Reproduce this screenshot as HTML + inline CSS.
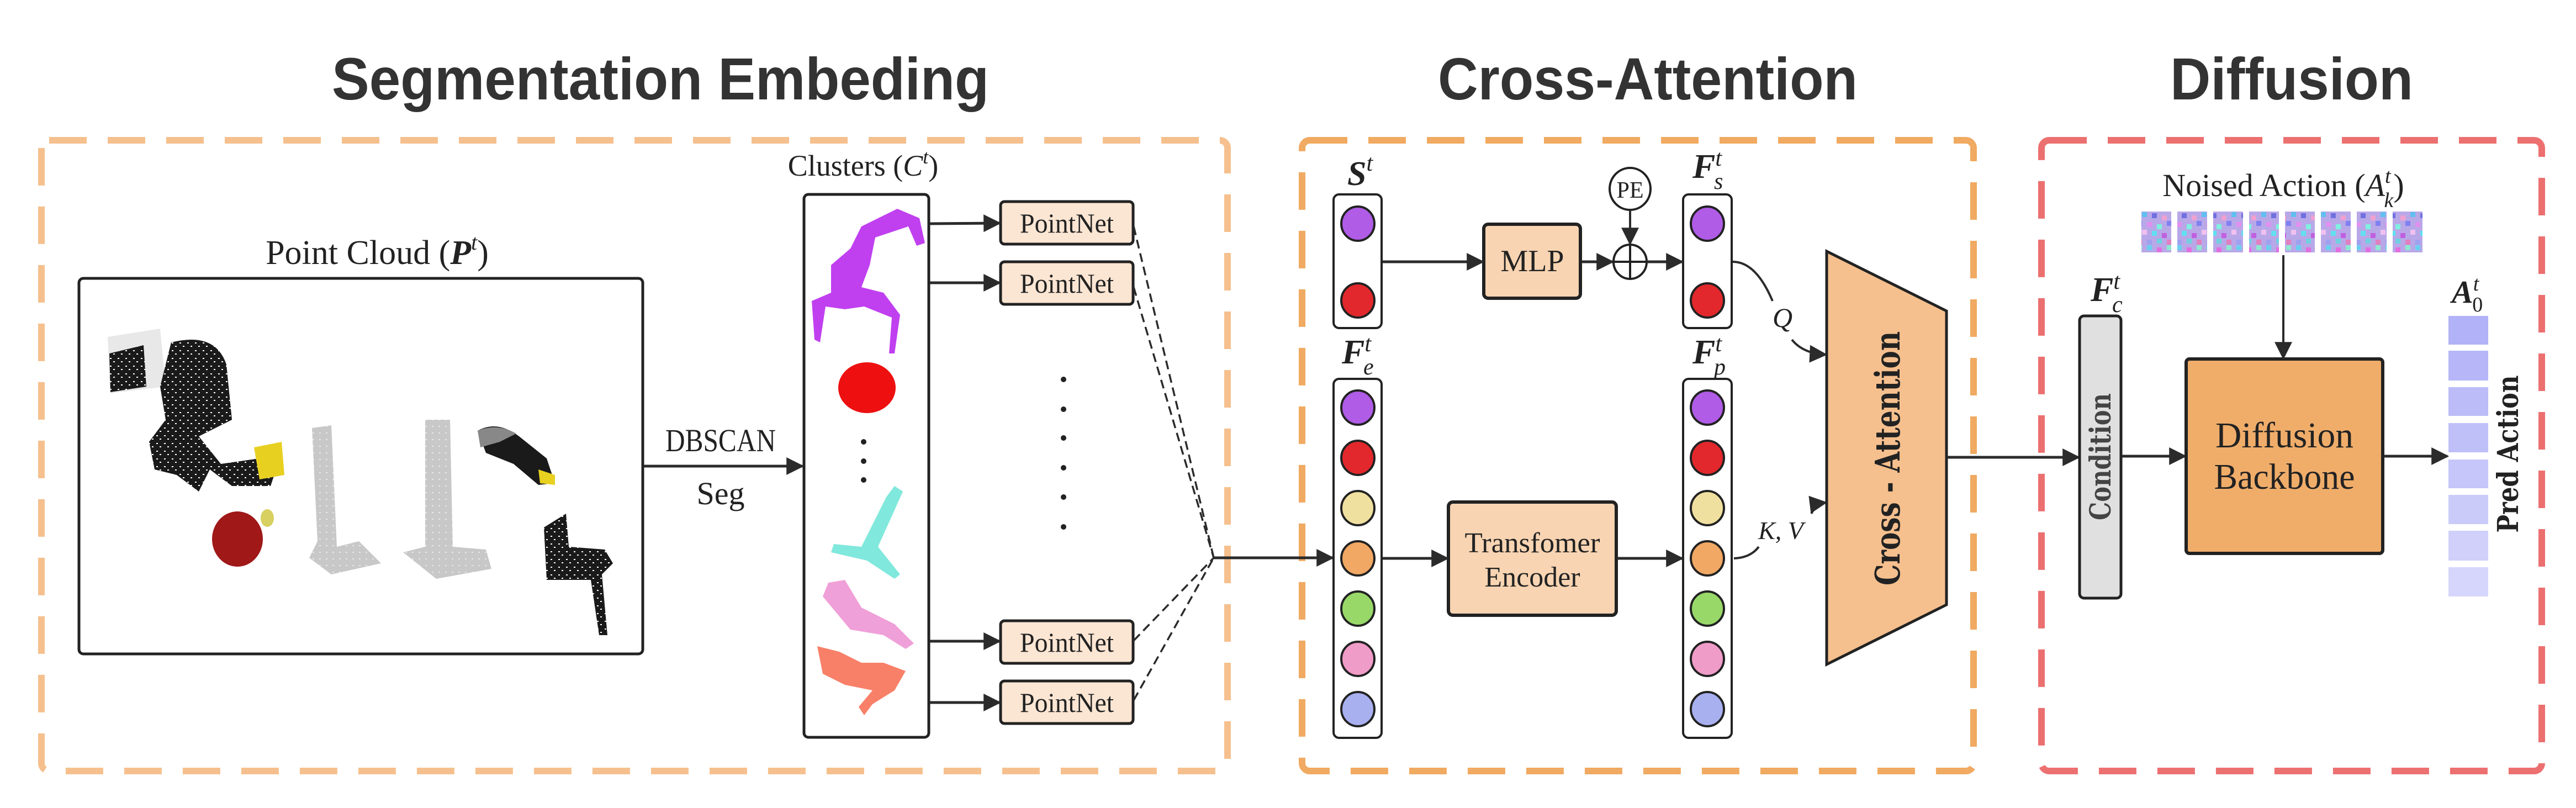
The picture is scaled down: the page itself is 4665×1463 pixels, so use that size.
<!DOCTYPE html>
<html><head><meta charset="utf-8"><style>html,body{margin:0;padding:0;background:#fff}svg{display:block}</style></head><body>
<svg width="4665" height="1463" viewBox="0 0 4665 1463" xmlns="http://www.w3.org/2000/svg">
<defs>
<marker id="ah" markerWidth="10" markerHeight="10" refX="9" refY="5" orient="auto" markerUnits="userSpaceOnUse" viewBox="0 0 10 10" >
<path d="M0,0 L10,5 L0,10 z" fill="#2b2b2b"/></marker>
<marker id="a2" viewBox="0 0 10 10" refX="9" refY="5" markerWidth="36" markerHeight="32" orient="auto" markerUnits="userSpaceOnUse"><path d="M0,0 L10,5 L0,10 z" fill="#2b2b2b"/></marker>
<pattern id="noise" width="54" height="74" patternUnits="userSpaceOnUse">
<rect width="54" height="74" fill="#b8a8e8"/>
<rect x="0" y="0" width="9" height="9" fill="#6ad0f0"/><rect x="18" y="4" width="9" height="9" fill="#e070e0"/><rect x="36" y="0" width="9" height="9" fill="#90e8d0"/>
<rect x="9" y="16" width="9" height="9" fill="#7070e0"/><rect x="27" y="20" width="9" height="9" fill="#f0a0d0"/><rect x="45" y="14" width="9" height="9" fill="#60c0f0"/>
<rect x="0" y="32" width="9" height="9" fill="#e090f0"/><rect x="18" y="36" width="9" height="9" fill="#80f0e0"/><rect x="36" y="30" width="9" height="9" fill="#8080f0"/>
<rect x="9" y="48" width="9" height="9" fill="#60e0f0"/><rect x="27" y="52" width="9" height="9" fill="#c060e0"/><rect x="45" y="46" width="9" height="9" fill="#f0c0f0"/>
<rect x="0" y="64" width="9" height="9" fill="#a0a0f0"/><rect x="18" y="62" width="9" height="9" fill="#70d0e0"/><rect x="36" y="64" width="9" height="9" fill="#e080c0"/>
</pattern>
<pattern id="dots" width="14" height="14" patternUnits="userSpaceOnUse"><rect width="14" height="14" fill="#1a1a1a"/><rect x="3" y="4" width="3" height="2" fill="#fff"/><rect x="9" y="10" width="3" height="2" fill="#fff"/></pattern>
<pattern id="gdots" width="12" height="12" patternUnits="userSpaceOnUse"><rect width="12" height="12" fill="#c8c8c8"/><rect x="2" y="3" width="3" height="2" fill="#e8e8e8"/></pattern>
</defs>

<!-- Titles -->
<g font-family="Liberation Sans, sans-serif" font-weight="bold" fill="#333">
<text x="1196" y="180" font-size="108" text-anchor="middle" textLength="1190" lengthAdjust="spacingAndGlyphs">Segmentation Embeding</text>
<text x="2984" y="180" font-size="108" text-anchor="middle" textLength="760" lengthAdjust="spacingAndGlyphs">Cross-Attention</text>
<text x="4150" y="180" font-size="108" text-anchor="middle" textLength="440" lengthAdjust="spacingAndGlyphs">Diffusion</text>
</g>

<!-- Dashed boxes -->
<rect x="75" y="254" width="2148" height="1142" rx="14" fill="none" stroke="#f5c08e" stroke-width="12" stroke-dasharray="68,38"/>
<rect x="2358" y="254" width="1216" height="1142" rx="14" fill="none" stroke="#f0aa62" stroke-width="12" stroke-dasharray="68,38"/>
<rect x="3697" y="254" width="906" height="1142" rx="14" fill="none" stroke="#ec7070" stroke-width="12" stroke-dasharray="68,38"/>

<!-- Point cloud -->
<text x="683" y="478" font-family="Liberation Serif, serif" font-size="62" fill="#222" text-anchor="middle">Point  Cloud (<tspan font-style="italic" font-weight="bold">P</tspan><tspan font-style="italic" font-size="40" dy="-26">t</tspan><tspan dy="26">)</tspan></text>
<rect x="143" y="504" width="1021" height="680" rx="8" fill="#fff" stroke="#222" stroke-width="5"/>
<g>
<path d="M195,610 L290,595 L300,700 L200,712 Z" fill="#e8e8e8"/>
<path d="M198,640 L260,625 L265,700 L200,710 Z" fill="url(#dots)"/>
<path d="M310,620 Q390,600 410,660 L420,760 L360,790 L400,840 L470,830 L500,850 L490,880 L420,880 L380,850 L360,890 L320,860 L280,850 L270,800 L300,760 L290,700 Z" fill="url(#dots)"/>
<path d="M460,810 L510,800 L515,860 L470,868 Z" fill="#e8d020"/>
<path d="M565,775 L600,770 L610,990 L650,980 L690,1020 L600,1040 L560,1010 L575,980 Z" fill="url(#gdots)"/>
<path d="M770,760 L815,760 L820,990 L880,995 L890,1030 L790,1048 L730,1000 L770,990 Z" fill="url(#gdots)"/>
<path d="M865,780 Q900,760 940,790 L990,830 L1005,875 L975,878 L930,840 L880,820 Z" fill="#1a1a1a"/>
<path d="M865,780 Q900,765 935,785 L905,800 L870,810 Z" fill="#888"/>
<path d="M975,850 L1005,860 L1005,878 L978,875 Z" fill="#e8d020"/>
<ellipse cx="430" cy="976" rx="46" ry="50" fill="#a01818"/>
<ellipse cx="484" cy="938" rx="12" ry="16" fill="#d8d060"/>
<path d="M985,955 L1025,930 L1030,990 L1095,995 L1110,1020 L1090,1040 L1100,1150 L1085,1150 L1070,1050 L990,1050 Z" fill="url(#dots)"/>
</g>

<!-- DBSCAN -->
<text x="1305" y="817" font-family="Liberation Serif, serif" font-size="58" fill="#222" text-anchor="middle" textLength="200" lengthAdjust="spacingAndGlyphs">DBSCAN</text>
<text x="1305" y="913" font-family="Liberation Serif, serif" font-size="58" fill="#222" text-anchor="middle">Seg</text>
<line x1="1166" y1="844" x2="1453" y2="844" stroke="#2b2b2b" stroke-width="5" marker-end="url(#a2)"/>

<!-- Clusters -->
<text x="1563" y="318" font-family="Liberation Serif, serif" font-size="54" fill="#222" text-anchor="middle">Clusters (<tspan font-style="italic">C</tspan><tspan font-style="italic" font-size="36" dy="-22">t</tspan><tspan dy="22">)</tspan></text>
<rect x="1456" y="352" width="226" height="983" rx="8" fill="#fff" stroke="#222" stroke-width="5"/>
<path d="M1560,410 L1625,378 L1665,395 L1675,440 L1660,445 L1645,410 L1585,430 L1575,480 L1560,520 L1600,530 L1630,570 L1620,640 L1610,640 L1615,575 L1565,555 L1530,560 L1495,555 L1485,620 L1475,615 L1470,545 L1505,530 L1505,480 L1540,450 Z" fill="#c040f0"/>
<ellipse cx="1570" cy="702" rx="52" ry="46" fill="#ee1010"/>
<path d="M1620,880 L1635,890 L1590,990 L1630,1040 L1620,1048 L1570,1015 L1505,1000 L1510,985 L1560,990 L1605,900 Z" fill="#80e8dc"/>
<path d="M1500,1055 L1530,1050 L1560,1100 L1620,1130 L1655,1165 L1640,1175 L1600,1150 L1540,1140 L1490,1080 Z" fill="#f0a0d8"/>
<path d="M1480,1170 L1520,1180 L1560,1200 L1600,1200 L1640,1215 L1620,1250 L1580,1275 L1565,1295 L1555,1280 L1580,1250 L1530,1240 L1490,1220 Z" fill="#f88068"/>
<g fill="#222"><circle cx="1564" cy="800" r="5"/><circle cx="1564" cy="835" r="5"/><circle cx="1564" cy="869" r="5"/></g>

<!-- PointNet -->
<g font-family="Liberation Serif, serif" font-size="50" fill="#222" text-anchor="middle">
<rect x="1812" y="365" width="240" height="77" rx="7" fill="#fbe5d3" stroke="#222" stroke-width="5"/>
<text x="1932" y="421" textLength="170" lengthAdjust="spacingAndGlyphs">PointNet</text>
<rect x="1812" y="474" width="240" height="77" rx="7" fill="#fbe5d3" stroke="#222" stroke-width="5"/>
<text x="1932" y="530" textLength="170" lengthAdjust="spacingAndGlyphs">PointNet</text>
<rect x="1812" y="1124" width="240" height="77" rx="7" fill="#fbe5d3" stroke="#222" stroke-width="5"/>
<text x="1932" y="1180" textLength="170" lengthAdjust="spacingAndGlyphs">PointNet</text>
<rect x="1812" y="1233" width="240" height="77" rx="7" fill="#fbe5d3" stroke="#222" stroke-width="5"/>
<text x="1932" y="1289" textLength="170" lengthAdjust="spacingAndGlyphs">PointNet</text>
</g>
<g stroke="#2b2b2b" stroke-width="5">
<line x1="1684" y1="405" x2="1810" y2="404" marker-end="url(#a2)"/>
<line x1="1684" y1="512" x2="1810" y2="512" marker-end="url(#a2)"/>
<line x1="1684" y1="1161" x2="1810" y2="1161" marker-end="url(#a2)"/>
<line x1="1684" y1="1272" x2="1810" y2="1272" marker-end="url(#a2)"/>
</g>
<g fill="#222"><circle cx="1926" cy="687" r="5"/><circle cx="1926" cy="741" r="5"/><circle cx="1926" cy="793" r="5"/><circle cx="1926" cy="847" r="5"/><circle cx="1926" cy="900" r="5"/><circle cx="1926" cy="954" r="5"/></g>
<g stroke="#2b2b2b" stroke-width="3.5" stroke-dasharray="16,9" fill="none">
<line x1="2053" y1="410" x2="2198" y2="1010"/>
<line x1="2053" y1="520" x2="2198" y2="1010"/>
<line x1="2053" y1="1160" x2="2198" y2="1010"/>
<line x1="2053" y1="1268" x2="2198" y2="1010"/>
</g>
<line x1="2198" y1="1010" x2="2413" y2="1010" stroke="#2b2b2b" stroke-width="5" marker-end="url(#a2)"/>

<!-- Columns -->
<g stroke="#222" stroke-width="4">
<rect x="2415" y="352" width="87" height="242" rx="10" fill="#fff"/>
<rect x="3048" y="352" width="88" height="242" rx="10" fill="#fff"/>
<rect x="2415" y="686" width="87" height="650" rx="10" fill="#fff"/>
<rect x="3048" y="686" width="88" height="650" rx="10" fill="#fff"/>
<ellipse cx="2459" cy="405" rx="30" ry="31" fill="#b05ce6"/>
<ellipse cx="2459" cy="544" rx="30" ry="31" fill="#e2282c"/>
<ellipse cx="3092" cy="405" rx="30" ry="31" fill="#b05ce6"/>
<ellipse cx="3092" cy="544" rx="30" ry="31" fill="#e2282c"/>
<g>
<ellipse cx="2459" cy="738" rx="30" ry="31" fill="#b05ce6"/>
<ellipse cx="2459" cy="829" rx="30" ry="31" fill="#e2282c"/>
<ellipse cx="2459" cy="920" rx="30" ry="31" fill="#f0e0a0"/>
<ellipse cx="2459" cy="1011" rx="30" ry="31" fill="#f0a864"/>
<ellipse cx="2459" cy="1102" rx="30" ry="31" fill="#98d868"/>
<ellipse cx="2459" cy="1193" rx="30" ry="31" fill="#f09cc8"/>
<ellipse cx="2459" cy="1284" rx="30" ry="31" fill="#a8b0f0"/>
<ellipse cx="3092" cy="738" rx="30" ry="31" fill="#b05ce6"/>
<ellipse cx="3092" cy="829" rx="30" ry="31" fill="#e2282c"/>
<ellipse cx="3092" cy="920" rx="30" ry="31" fill="#f0e0a0"/>
<ellipse cx="3092" cy="1011" rx="30" ry="31" fill="#f0a864"/>
<ellipse cx="3092" cy="1102" rx="30" ry="31" fill="#98d868"/>
<ellipse cx="3092" cy="1193" rx="30" ry="31" fill="#f09cc8"/>
<ellipse cx="3092" cy="1284" rx="30" ry="31" fill="#a8b0f0"/>
</g>
</g>
<g font-family="Liberation Serif, serif" font-style="italic" font-weight="bold" fill="#222" font-size="62">
<text x="2440" y="335">S<tspan font-size="42" font-weight="normal" dy="-26">t</tspan></text>
<text x="3065" y="322">F<tspan font-size="42" font-weight="normal" dy="-22">t</tspan><tspan font-size="42" font-weight="normal" dx="-14" dy="42">s</tspan></text>
<text x="2430" y="658">F<tspan font-size="42" font-weight="normal" dy="-22">t</tspan><tspan font-size="42" font-weight="normal" dx="-14" dy="42">e</tspan></text>
<text x="3065" y="658">F<tspan font-size="42" font-weight="normal" dy="-22">t</tspan><tspan font-size="42" font-weight="normal" dx="-14" dy="42">p</tspan></text>
</g>

<!-- MLP / PE -->
<rect x="2687" y="406" width="175" height="134" rx="8" fill="#f8d4b2" stroke="#222" stroke-width="6"/>
<text x="2775" y="491" font-family="Liberation Serif, serif" font-size="56" fill="#222" text-anchor="middle">MLP</text>
<line x1="2504" y1="474" x2="2685" y2="474" stroke="#2b2b2b" stroke-width="5" marker-end="url(#a2)"/>
<line x1="2864" y1="474" x2="2920" y2="474" stroke="#2b2b2b" stroke-width="5" marker-end="url(#a2)"/>
<ellipse cx="2952" cy="474" rx="30" ry="31" fill="#fff" stroke="#222" stroke-width="4"/>
<line x1="2922" y1="474" x2="2982" y2="474" stroke="#222" stroke-width="4"/>
<line x1="2952" y1="443" x2="2952" y2="505" stroke="#222" stroke-width="4"/>
<line x1="2984" y1="474" x2="3046" y2="474" stroke="#2b2b2b" stroke-width="5" marker-end="url(#a2)"/>
<ellipse cx="2952" cy="342" rx="37" ry="38" fill="#fff" stroke="#222" stroke-width="4"/>
<text x="2952" y="358" font-family="Liberation Serif, serif" font-size="42" fill="#222" text-anchor="middle">PE</text>
<line x1="2952" y1="380" x2="2952" y2="441" stroke="#2b2b2b" stroke-width="4" marker-end="url(#a2)"/>

<!-- Transformer -->
<rect x="2623" y="909" width="304" height="205" rx="8" fill="#f8d4b2" stroke="#222" stroke-width="6"/>
<text x="2775" y="1000" font-family="Liberation Serif, serif" font-size="52" fill="#222" text-anchor="middle" textLength="245" lengthAdjust="spacingAndGlyphs">Transfomer</text>
<text x="2775" y="1062" font-family="Liberation Serif, serif" font-size="52" fill="#222" text-anchor="middle">Encoder</text>
<line x1="2504" y1="1011" x2="2621" y2="1011" stroke="#2b2b2b" stroke-width="5" marker-end="url(#a2)"/>
<line x1="2929" y1="1011" x2="3046" y2="1011" stroke="#2b2b2b" stroke-width="5" marker-end="url(#a2)"/>

<!-- Q, KV -->
<path d="M3138,474 Q3180,474 3210,545" fill="none" stroke="#2b2b2b" stroke-width="4"/>
<text x="3228" y="592" font-family="Liberation Serif, serif" font-style="italic" font-size="50" fill="#222" text-anchor="middle">Q</text>
<path d="M3245,615 Q3265,640 3306,642" fill="none" stroke="#2b2b2b" stroke-width="4" marker-end="url(#a2)"/>
<path d="M3140,1011 Q3170,1010 3185,990" fill="none" stroke="#2b2b2b" stroke-width="4"/>
<text x="3225" y="976" font-family="Liberation Serif, serif" font-style="italic" font-size="46" fill="#222" text-anchor="middle">K, V</text>
<path d="M3280,930 Q3290,912 3306,910" fill="none" stroke="#2b2b2b" stroke-width="4" marker-end="url(#a2)"/>

<!-- Trapezoid -->
<path d="M3308,455 L3525,563 L3525,1095 L3308,1203 Z" fill="#f5c08e" stroke="#222" stroke-width="5"/>
<text transform="translate(3440,830) rotate(-90)" font-family="DejaVu Serif, serif" font-weight="bold" font-size="62" fill="#222" text-anchor="middle" textLength="460" lengthAdjust="spacingAndGlyphs">Cross - Attention</text>
<line x1="3525" y1="828" x2="3764" y2="828" stroke="#2b2b2b" stroke-width="5" marker-end="url(#a2)"/>

<!-- Condition -->
<rect x="3766" y="572" width="75" height="511" rx="8" fill="#e0e0e0" stroke="#222" stroke-width="5"/>
<text transform="translate(3822,827) rotate(-90)" font-family="DejaVu Serif, serif" font-weight="bold" font-size="52" fill="#444" text-anchor="middle" textLength="230" lengthAdjust="spacingAndGlyphs">Condition</text>
<text x="3786" y="545" font-family="Liberation Serif, serif" font-style="italic" font-weight="bold" font-size="62" fill="#222">F<tspan font-size="42" font-weight="normal" dy="-22">t</tspan><tspan font-size="42" font-weight="normal" dx="-14" dy="42">c</tspan></text>
<line x1="3843" y1="826" x2="3957" y2="826" stroke="#2b2b2b" stroke-width="5" marker-end="url(#a2)"/>

<!-- Diffusion backbone -->
<rect x="3959" y="650" width="356" height="352" rx="6" fill="#f0ad6a" stroke="#222" stroke-width="6"/>
<text x="4137" y="810" font-family="Liberation Serif, serif" font-size="66" fill="#222" text-anchor="middle" textLength="250" lengthAdjust="spacingAndGlyphs">Diffusion</text>
<text x="4137" y="885" font-family="Liberation Serif, serif" font-size="66" fill="#222" text-anchor="middle" textLength="255" lengthAdjust="spacingAndGlyphs">Backbone</text>

<!-- Noised action -->
<text x="4135" y="355" font-family="Liberation Serif, serif" font-size="58" fill="#222" text-anchor="middle">Noised  Action (<tspan font-style="italic">A</tspan><tspan font-style="italic" font-size="38" dy="-24">t</tspan><tspan font-style="italic" font-size="38" dx="-12" dy="44">k</tspan><tspan dy="-20">)</tspan></text>
<g>
<rect x="3878" y="383" width="54" height="74" fill="url(#noise)"/>
<rect x="3943" y="383" width="54" height="74" fill="url(#noise)"/>
<rect x="4008" y="383" width="54" height="74" fill="url(#noise)"/>
<rect x="4073" y="383" width="54" height="74" fill="url(#noise)"/>
<rect x="4138" y="383" width="54" height="74" fill="url(#noise)"/>
<rect x="4203" y="383" width="54" height="74" fill="url(#noise)"/>
<rect x="4268" y="383" width="54" height="74" fill="url(#noise)"/>
<rect x="4333" y="383" width="54" height="74" fill="url(#noise)"/>
</g>
<line x1="4135" y1="462" x2="4135" y2="648" stroke="#2b2b2b" stroke-width="4" marker-end="url(#a2)"/>
<line x1="4317" y1="826" x2="4432" y2="826" stroke="#2b2b2b" stroke-width="5" marker-end="url(#a2)"/>

<!-- Action column -->
<g>
<rect x="4434" y="572" width="72" height="52" fill="#b2b2f8"/>
<rect x="4434" y="635" width="72" height="54" fill="#b6b6f8"/>
<rect x="4434" y="701" width="72" height="52" fill="#bcbcf8"/>
<rect x="4434" y="766" width="72" height="53" fill="#c0c0f9"/>
<rect x="4434" y="832" width="72" height="52" fill="#c6c6fa"/>
<rect x="4434" y="896" width="72" height="53" fill="#cbcbfa"/>
<rect x="4434" y="961" width="72" height="54" fill="#d0d0fb"/>
<rect x="4434" y="1027" width="72" height="53" fill="#d6d6fc"/>
</g>
<text x="4440" y="548" font-family="Liberation Serif, serif" font-style="italic" font-weight="bold" font-size="58" fill="#222">A<tspan font-size="38" font-weight="normal" dy="-22">t</tspan><tspan font-size="38" font-weight="normal" font-style="normal" dx="-12" dy="38">0</tspan></text>
<text transform="translate(4560,822) rotate(-90)" font-family="DejaVu Serif, serif" font-weight="bold" font-size="52" fill="#222" text-anchor="middle" textLength="285" lengthAdjust="spacingAndGlyphs">Pred  Action</text>
</svg>
</body></html>
